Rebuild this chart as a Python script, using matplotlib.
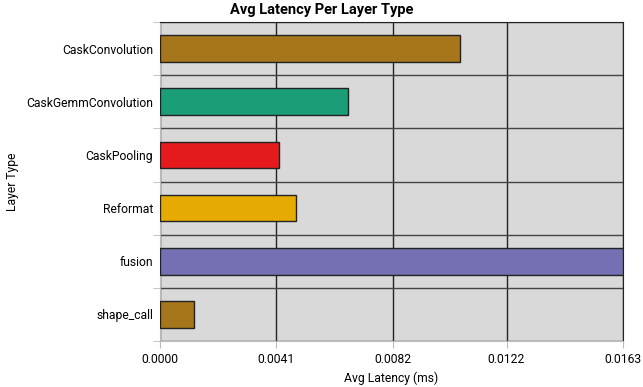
import numpy as np
import matplotlib.pyplot as plt

plt.rcParams['font.family'] = ['Roboto', 'DejaVu Sans']

# dados
layers = ['CaskConvolution', 'CaskGemmConvolution', 'CaskPooling',
          'Reformat', 'fusion', 'shape_call']
latency = [0.01055, 0.00662, 0.00419, 0.00479, 0.0163, 0.00119]
colors = ['#A6761D', '#1B9E77', '#E41A1C', '#E6AB02', '#7570B3', '#A6761D']
xticks = [0.0, 0.0041, 0.0082, 0.0122, 0.0163]

fig = plt.figure(figsize=(6.43, 3.87), dpi=100)
ax = fig.add_axes([160/643, 1 - 341/387, 463/643, 319/387])
ax.set_facecolor('#D9D9D9')

y = np.arange(len(layers))
ax.barh(y, latency, height=0.5, color=colors, edgecolor='#222222', linewidth=1, zorder=3)

ax.set_ylim(len(layers) - 0.5, -0.5)
ax.set_xlim(0, max(latency))

ax.set_yticks(y)
ax.set_yticklabels(layers, fontsize=8.7)
ax.set_yticks(np.arange(len(layers) + 1) - 0.5, minor=True)
ax.tick_params(axis='y', which='major', length=0, pad=5)
ax.tick_params(axis='y', which='minor', length=5, color='#BBBBBB')
ax.grid(axis='y', which='minor', color='#444444', linewidth=1, zorder=1)

ax.set_xticks(xticks)
ax.set_xticklabels([f'{v:.4f}' for v in xticks], fontsize=8.7)
ax.tick_params(axis='x', length=5, color='#BBBBBB')
ax.grid(axis='x', which='major', color='#222222', linewidth=1, zorder=1)

for s in ['top', 'right']:
    ax.spines[s].set_color('#222222')
for s in ['left', 'bottom']:
    ax.spines[s].set_color('#BBBBBB')

fig.suptitle('Avg Latency Per Layer Type', fontsize=10.5, fontweight='bold', x=0.5, y=1 - 3/387, va='top')
ax.set_xlabel('Avg Latency (ms)', fontsize=8.7)
ax.set_ylabel('Layer Type', fontsize=8.7)
ax.yaxis.set_label_coords(-141/463, 0.5)

fig.savefig('out.png', dpi=100)
